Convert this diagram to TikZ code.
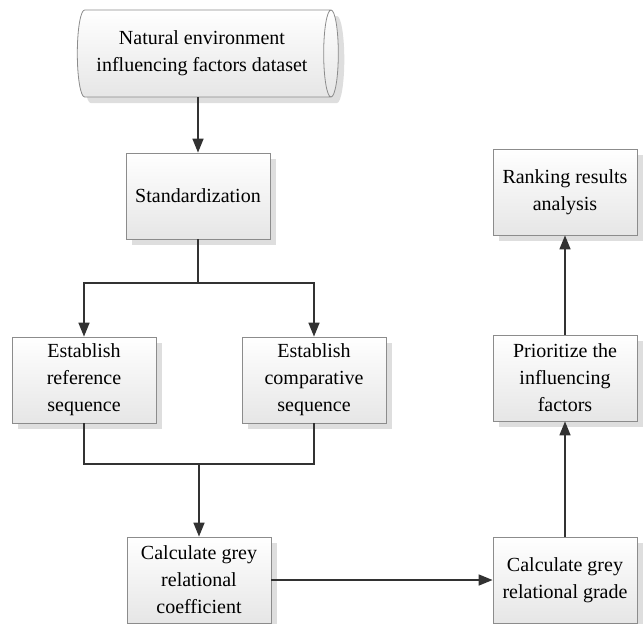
\documentclass[tikz,border=0pt]{standalone}
\usepackage{fontspec}
\setmainfont{Liberation Serif}
\usetikzlibrary{shapes.geometric,arrows.meta,shadows,calc}
\definecolor{linegrey}{RGB}{50,50,50}
\definecolor{boxborder}{RGB}{140,140,140}
\definecolor{boxshade}{RGB}{230,230,230}
\definecolor{shadowgrey}{RGB}{222,222,222}

\tikzset{
  stepbox/.style={draw=boxborder, top color=white, bottom color=boxshade,
    minimum width=72pt, minimum height=43pt, inner sep=2pt, align=center,
    font=\fontsize{10}{13.5}\selectfont,
    drop shadow={shadow xshift=3pt, shadow yshift=-3pt, fill=shadowgrey, opacity=1}},
  datastore/.style={cylinder, draw=boxborder, top color=white, bottom color=boxshade,
    minimum width=43.5pt, minimum height=130.5pt, aspect=0.25, align=center,
    font=\fontsize{10}{13.5}\selectfont,
    drop shadow={shadow xshift=3pt, shadow yshift=-3pt, fill=shadowgrey, opacity=1}},
  link/.style={draw=linegrey, line width=0.8pt},
  flow/.style={link, -{Triangle[length=7pt, width=5.5pt]}}
}

\begin{document}
\begin{tikzpicture}[x=0.5pt, y=-0.5pt]
    \useasboundingbox (0,0) rectangle (643,623);

    % Input data
    \node[datastore] (data) at (202,53.5) {Natural environment\\influencing factors dataset};

    % Preprocessing
    \node[stepbox] (std) at (198,196) {Standardization};

    % Sequences
    \node[stepbox] (refseq) at (84,380) {Establish\\reference\\sequence};
    \node[stepbox] (cmpseq) at (314,380) {Establish\\comparative\\sequence};

    % Grey relational analysis
    \node[stepbox] (coef) at (199,580) {Calculate grey\\relational\\coefficient};
    \node[stepbox] (grade) at (565,580) {Calculate grey\\relational grade};
    \node[stepbox] (prio) at (565,378) {Prioritize the\\influencing\\factors};
    \node[stepbox] (rank) at (565,192) {Ranking results\\analysis};

    % Branch and merge points
    \coordinate (split) at (198,283);
    \coordinate (merge) at (199,464);

    % Connectors
    \draw[flow] (std |- data.south) -- (std.north);
    \draw[link] (std.south) -- (split);
    \draw[flow] (split) -| (refseq.north);
    \draw[flow] (split) -| (cmpseq.north);
    \draw[link] (refseq.south) |- (merge) -| (cmpseq.south);
    \draw[flow] (merge) -- (coef.north);
    \draw[flow] (coef.east) -- (grade.west);
    \draw[flow] (grade.north) -- (prio.south);
    \draw[flow] (prio.north) -- (rank.south);
\end{tikzpicture}
\end{document}
